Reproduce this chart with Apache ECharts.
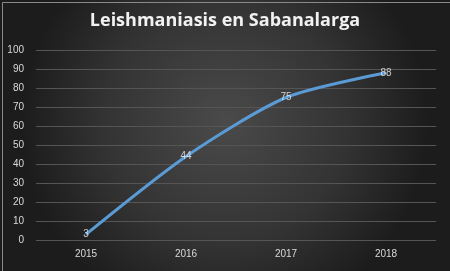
<!DOCTYPE html>
<html><head><meta charset="utf-8">
<script src="https://cdn.jsdelivr.net/npm/echarts@6/dist/echarts.min.js"></script>
<style>html,body{margin:0;padding:0;background:#222}#c{width:450px;height:271px}</style>
</head><body><div id="c"></div>
<script>
const titleText = "Leishmaniasis en Sabanalarga";
const categories = ["2015", "2016", "2017", "2018"];
const values = [3, 44, 75, 88];
const yTicks = [0, 10, 20, 30, 40, 50, 60, 70, 80, 90, 100];

const chart = echarts.init(document.getElementById('c'), null, {renderer: 'canvas'});
chart.setOption({
  backgroundColor: {
    type: 'radial', x: 0.5, y: 0.45, r: 0.75,
    colorStops: [{offset: 0, color: '#4a4a4a'}, {offset: 0.6, color: '#333333'}, {offset: 1, color: '#1c1c1c'}]
  },
  animation: false,
  graphic: [{
    type: 'rect', left: 0, top: 0, silent: true,
    shape: {x: 0.5, y: 0.5, width: 449, height: 270},
    style: {fill: 'none', stroke: '#8a8a8a', lineWidth: 1}
  }],
  title: {
    text: titleText, left: 'center', top: 7,
    textStyle: {color: '#f2f2f2', fontSize: 18, fontWeight: 'bold', fontFamily: 'Open Sans'}
  },
  grid: {left: 36, right: 14, top: 50, bottom: 31},
  xAxis: {
    type: 'category', data: categories, boundaryGap: true,
    axisLine: {show: false}, axisTick: {show: false},
    axisLabel: {color: '#d9d9d9', fontSize: 10, fontFamily: 'Liberation Sans', margin: 9}
  },
  yAxis: {
    type: 'value', min: yTicks[0], max: yTicks[yTicks.length - 1], interval: 10,
    axisLine: {show: false}, axisTick: {show: false},
    axisLabel: {color: '#d9d9d9', fontSize: 10, fontFamily: 'Liberation Sans', margin: 12},
    splitLine: {lineStyle: {color: '#555555', width: 1}}
  },
  series: [{
    type: 'line', data: values, smooth: 0.25, symbol: 'none',
    lineStyle: {color: '#5b9bd5', width: 3}, z: 2
  }, {
    type: 'scatter', data: values, symbolSize: 1, z: 3,
    itemStyle: {color: 'rgba(0,0,0,0)'},
    label: {show: true, position: 'inside', color: '#f2f2f2', fontSize: 10, fontFamily: 'Liberation Sans'}
  }]
});
</script></body></html>
